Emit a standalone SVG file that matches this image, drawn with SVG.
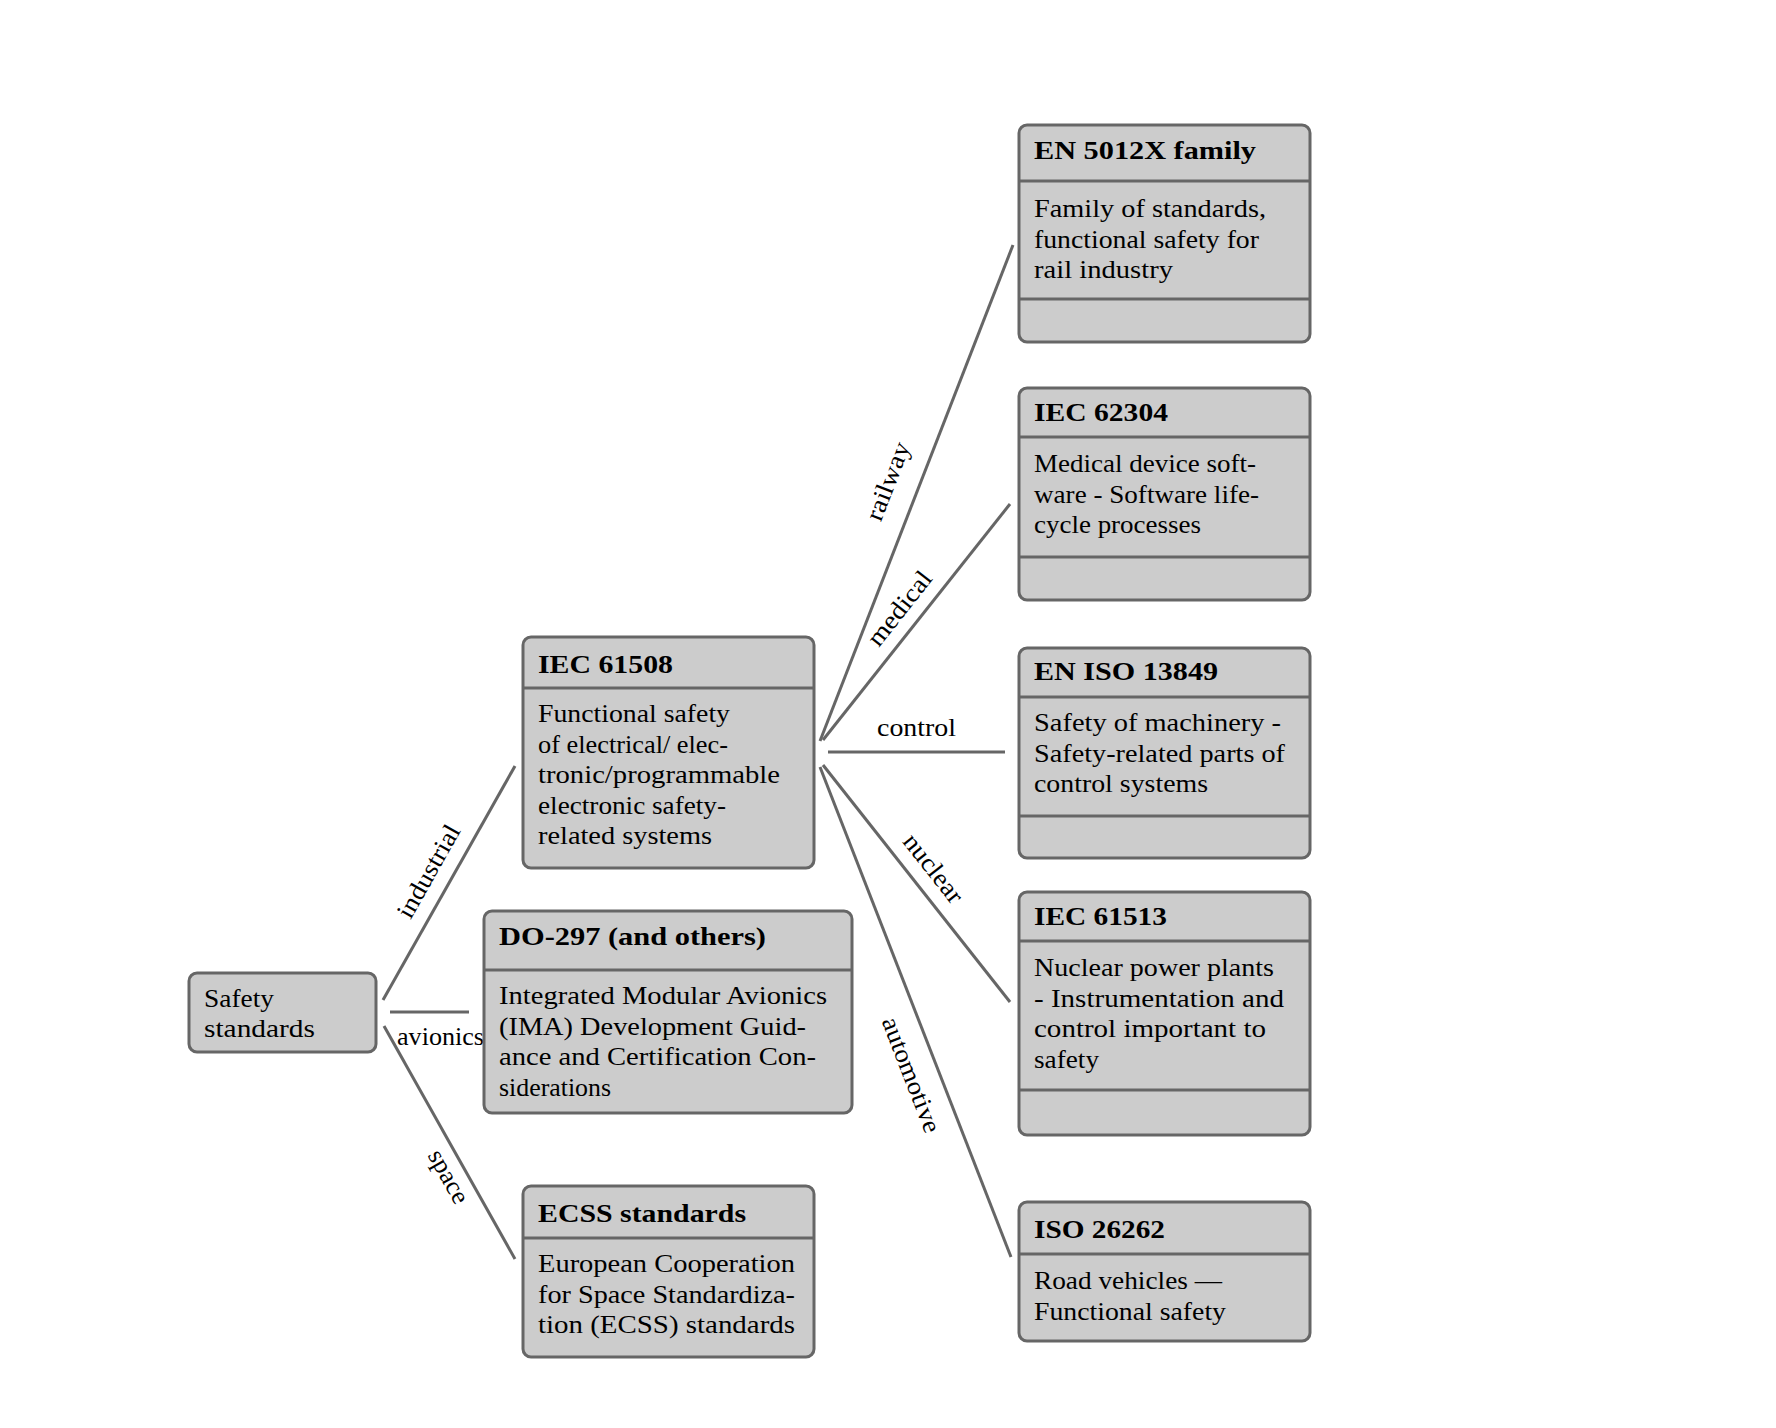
<svg xmlns="http://www.w3.org/2000/svg" width="1776" height="1428" viewBox="0 0 1776 1428">
<style>
.bg{fill:#ffffff}
.box{fill:#cccccc;stroke:#666666;stroke-width:3}
.dv{stroke:#666666;stroke-width:3}
.conn{stroke:#666666;stroke-width:3;fill:none}
text{font-family:"Liberation Serif","Times New Roman",serif;font-size:25.5px;fill:#000000}
.b{font-weight:bold}
.lbl{text-anchor:middle}
</style>
<rect class="bg" x="0" y="0" width="1776" height="1428"/>
<g id="connectors">
  <path class="conn" d="M383,1000 L515,766"/>
  <path class="conn" d="M390,1012 L469,1012"/>
  <path class="conn" d="M384,1026 L515,1259"/>
  <path class="conn" d="M820,741 L1013,245"/>
  <path class="conn" d="M823,740 L1010,504"/>
  <path class="conn" d="M828,752 L1005,752"/>
  <path class="conn" d="M823,765 L1010,1002"/>
  <path class="conn" d="M820,767 L1011,1257"/>
  <text class="lbl" transform="translate(428,871) rotate(-60.6)" x="0" y="9" textLength="103" lengthAdjust="spacingAndGlyphs">industrial</text>
  <text x="397" y="1045" textLength="87" lengthAdjust="spacingAndGlyphs">avionics</text>
  <text class="lbl" transform="translate(444,1179) rotate(60.6)" x="0" y="3" textLength="58" lengthAdjust="spacingAndGlyphs">space</text>
  <text class="lbl" transform="translate(890,482) rotate(-68.7)" x="0" y="6" textLength="82" lengthAdjust="spacingAndGlyphs">railway</text>
  <text class="lbl" transform="translate(899,608) rotate(-51.7)" x="0" y="9" textLength="88" lengthAdjust="spacingAndGlyphs">medical</text>
  <text x="877" y="736" textLength="79" lengthAdjust="spacingAndGlyphs">control</text>
  <text class="lbl" transform="translate(934,868) rotate(51.7)" x="0" y="9" textLength="81" lengthAdjust="spacingAndGlyphs">nuclear</text>
  <text class="lbl" transform="translate(911,1075) rotate(68.7)" x="0" y="8" textLength="122" lengthAdjust="spacingAndGlyphs">automotive</text>
</g>
<g id="safety">
  <rect class="box" x="189" y="973" width="187" height="79" rx="8"/>
  <text x="204" y="1007" textLength="70" lengthAdjust="spacingAndGlyphs">Safety</text>
  <text x="204" y="1037" textLength="111" lengthAdjust="spacingAndGlyphs">standards</text>
</g>
<g id="iec61508">
  <rect class="box" x="523" y="637" width="291" height="231" rx="8"/>
  <line class="dv" x1="523" y1="688" x2="814" y2="688"/>
  <text class="b" x="538" y="673" textLength="135" lengthAdjust="spacingAndGlyphs">IEC 61508</text>
  <text x="538" y="722" textLength="192" lengthAdjust="spacingAndGlyphs">Functional safety</text>
  <text x="538" y="752.6" textLength="190" lengthAdjust="spacingAndGlyphs">of electrical/ elec-</text>
  <text x="538" y="783.2" textLength="242" lengthAdjust="spacingAndGlyphs">tronic/programmable</text>
  <text x="538" y="813.8" textLength="188" lengthAdjust="spacingAndGlyphs">electronic safety-</text>
  <text x="538" y="844.4" textLength="174" lengthAdjust="spacingAndGlyphs">related systems</text>
</g>
<g id="do297">
  <rect class="box" x="484" y="911" width="368" height="202" rx="8"/>
  <line class="dv" x1="484" y1="970" x2="852" y2="970"/>
  <text class="b" x="499" y="945" textLength="267" lengthAdjust="spacingAndGlyphs">DO-297 (and others)</text>
  <text x="499" y="1004" textLength="328" lengthAdjust="spacingAndGlyphs">Integrated Modular Avionics</text>
  <text x="499" y="1034.6" textLength="307" lengthAdjust="spacingAndGlyphs">(IMA) Development Guid-</text>
  <text x="499" y="1065.2" textLength="317" lengthAdjust="spacingAndGlyphs">ance and Certification Con-</text>
  <text x="499" y="1095.8" textLength="112" lengthAdjust="spacingAndGlyphs">siderations</text>
</g>
<g id="ecss">
  <rect class="box" x="523" y="1186" width="291" height="171" rx="8"/>
  <line class="dv" x1="523" y1="1238" x2="814" y2="1238"/>
  <text class="b" x="538" y="1222" textLength="208" lengthAdjust="spacingAndGlyphs">ECSS standards</text>
  <text x="538" y="1272" textLength="257" lengthAdjust="spacingAndGlyphs">European Cooperation</text>
  <text x="538" y="1302.6" textLength="257" lengthAdjust="spacingAndGlyphs">for Space Standardiza-</text>
  <text x="538" y="1333.2" textLength="257" lengthAdjust="spacingAndGlyphs">tion (ECSS) standards</text>
</g>
<g id="en5012x">
  <rect class="box" x="1019" y="125" width="291" height="217" rx="8"/>
  <line class="dv" x1="1019" y1="181" x2="1310" y2="181"/>
  <line class="dv" x1="1019" y1="299" x2="1310" y2="299"/>
  <text class="b" x="1034" y="159" textLength="222" lengthAdjust="spacingAndGlyphs">EN 5012X family</text>
  <text x="1034" y="217" textLength="232" lengthAdjust="spacingAndGlyphs">Family of standards,</text>
  <text x="1034" y="247.6" textLength="225" lengthAdjust="spacingAndGlyphs">functional safety for</text>
  <text x="1034" y="278.2" textLength="139" lengthAdjust="spacingAndGlyphs">rail industry</text>
</g>
<g id="iec62304">
  <rect class="box" x="1019" y="388" width="291" height="212" rx="8"/>
  <line class="dv" x1="1019" y1="437" x2="1310" y2="437"/>
  <line class="dv" x1="1019" y1="557" x2="1310" y2="557"/>
  <text class="b" x="1034" y="421" textLength="134" lengthAdjust="spacingAndGlyphs">IEC 62304</text>
  <text x="1034" y="472" textLength="222" lengthAdjust="spacingAndGlyphs">Medical device soft-</text>
  <text x="1034" y="502.6" textLength="225" lengthAdjust="spacingAndGlyphs">ware - Software life-</text>
  <text x="1034" y="533.2" textLength="167" lengthAdjust="spacingAndGlyphs">cycle processes</text>
</g>
<g id="eniso13849">
  <rect class="box" x="1019" y="648" width="291" height="210" rx="8"/>
  <line class="dv" x1="1019" y1="697" x2="1310" y2="697"/>
  <line class="dv" x1="1019" y1="816" x2="1310" y2="816"/>
  <text class="b" x="1034" y="680" textLength="184" lengthAdjust="spacingAndGlyphs">EN ISO 13849</text>
  <text x="1034" y="731" textLength="247" lengthAdjust="spacingAndGlyphs">Safety of machinery -</text>
  <text x="1034" y="761.6" textLength="251" lengthAdjust="spacingAndGlyphs">Safety-related parts of</text>
  <text x="1034" y="792.2" textLength="174" lengthAdjust="spacingAndGlyphs">control systems</text>
</g>
<g id="iec61513">
  <rect class="box" x="1019" y="892" width="291" height="243" rx="8"/>
  <line class="dv" x1="1019" y1="941" x2="1310" y2="941"/>
  <line class="dv" x1="1019" y1="1090" x2="1310" y2="1090"/>
  <text class="b" x="1034" y="925" textLength="133" lengthAdjust="spacingAndGlyphs">IEC 61513</text>
  <text x="1034" y="976" textLength="240" lengthAdjust="spacingAndGlyphs">Nuclear power plants</text>
  <text x="1034" y="1006.6" textLength="250" lengthAdjust="spacingAndGlyphs">- Instrumentation and</text>
  <text x="1034" y="1037.2" textLength="232" lengthAdjust="spacingAndGlyphs">control important to</text>
  <text x="1034" y="1067.8" textLength="65" lengthAdjust="spacingAndGlyphs">safety</text>
</g>
<g id="iso26262">
  <rect class="box" x="1019" y="1202" width="291" height="139" rx="8"/>
  <line class="dv" x1="1019" y1="1254" x2="1310" y2="1254"/>
  <text class="b" x="1034" y="1238" textLength="131" lengthAdjust="spacingAndGlyphs">ISO 26262</text>
  <text x="1034" y="1289" textLength="188" lengthAdjust="spacingAndGlyphs">Road vehicles —</text>
  <text x="1034" y="1319.6" textLength="192" lengthAdjust="spacingAndGlyphs">Functional safety</text>
</g>
</svg>
